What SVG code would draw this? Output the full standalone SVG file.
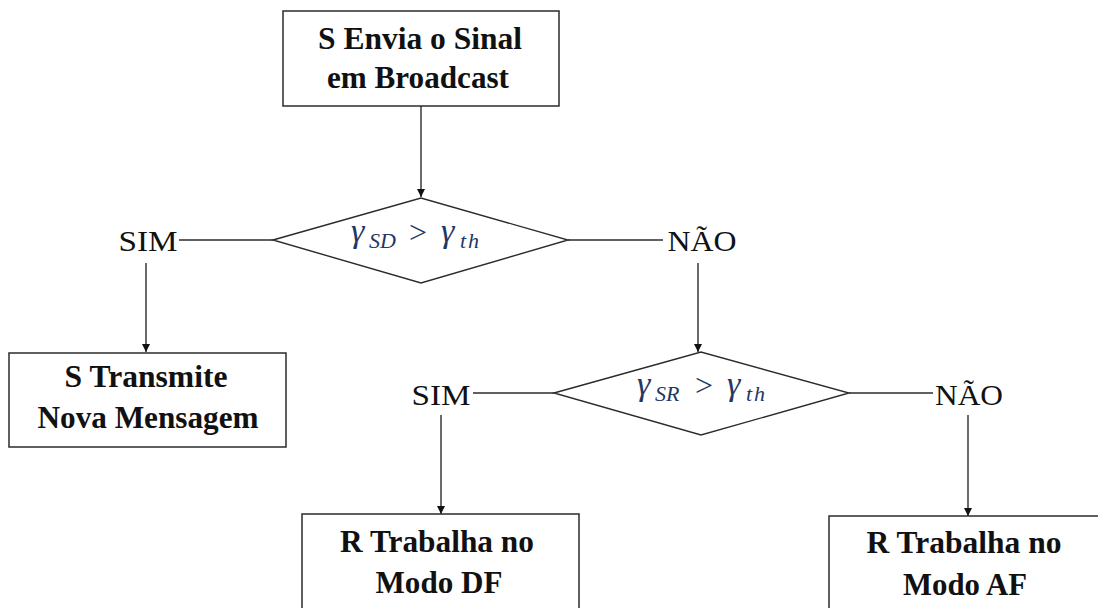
<svg xmlns="http://www.w3.org/2000/svg" width="1098" height="608" viewBox="0 0 1098 608">
  <style>
    .box { fill: #ffffff; stroke: #2b2b2b; stroke-width: 1.5; }
    .dia { fill: #ffffff; stroke: #2b2b2b; stroke-width: 1.4; }
    .ln { fill: none; stroke: #2b2b2b; stroke-width: 1.4; }
    .t { font-family: 'Liberation Serif', 'Times New Roman', serif; font-size: 31px; font-weight: bold; fill: #111111; text-anchor: middle; }
    .lbl { font-family: 'Liberation Serif', 'Times New Roman', serif; font-size: 30px; fill: #111111; text-anchor: middle; }
    .m { font-family: 'Liberation Serif', 'DejaVu Serif', serif; font-style: italic; font-size: 34px; fill: #1f3864; }
    .sub { font-size: 22px; }
    .th { font-size: 22px; letter-spacing: 2px; }
    .op { font-style: normal; font-size: 32px; }
  </style>
  <defs>
    <marker id="arrow" viewBox="0 0 10 10" refX="10" refY="5" markerWidth="8" markerHeight="8" markerUnits="userSpaceOnUse" orient="auto">
      <path d="M0,0 L10,5 L0,10 z" fill="#111111"/>
    </marker>
  </defs>
  <rect width="1098" height="608" fill="#ffffff"/>

  <!-- connectors -->
  <g id="connectors">
    <line class="ln" x1="421" y1="106" x2="421" y2="197" marker-end="url(#arrow)"/>
    <line class="ln" x1="179" y1="240" x2="273" y2="240"/>
    <line class="ln" x1="568" y1="240" x2="663" y2="240"/>
    <line class="ln" x1="146" y1="263" x2="146" y2="352" marker-end="url(#arrow)"/>
    <line class="ln" x1="698" y1="263" x2="698" y2="352" marker-end="url(#arrow)"/>
    <line class="ln" x1="473" y1="393" x2="554" y2="393"/>
    <line class="ln" x1="849" y1="393" x2="933" y2="393"/>
    <line class="ln" x1="441" y1="415" x2="441" y2="514" marker-end="url(#arrow)"/>
    <line class="ln" x1="968" y1="415" x2="968" y2="516" marker-end="url(#arrow)"/>
  </g>

  <!-- start: broadcast -->
  <g id="node-broadcast">
    <rect class="box" x="283" y="11" width="276" height="95"/>
    <text class="t" x="420" y="49" textLength="204" lengthAdjust="spacingAndGlyphs">S Envia o Sinal</text>
    <text class="t" x="418" y="88" textLength="182" lengthAdjust="spacingAndGlyphs">em Broadcast</text>
  </g>

  <!-- decision 1 -->
  <g id="node-decision-sd">
    <polygon class="dia" points="273,240 421,198 568,240 421,283"/>
    <text class="m" y="242"><tspan x="351">γ</tspan><tspan class="sub" x="369" y="248">SD</tspan><tspan class="op" x="409" y="243">&gt;</tspan><tspan x="441" y="242">γ</tspan><tspan class="th" x="460" y="248">th</tspan></text>
  </g>

  <g id="label-sim-1"><text class="lbl" x="148" y="251" textLength="59" lengthAdjust="spacingAndGlyphs">SIM</text></g>
  <g id="label-nao-1"><text class="lbl" x="702" y="251" textLength="69" lengthAdjust="spacingAndGlyphs">NÃO</text></g>

  <!-- new message -->
  <g id="node-new-message">
    <rect class="box" x="9" y="353" width="277" height="94"/>
    <text class="t" x="146" y="387" textLength="163" lengthAdjust="spacingAndGlyphs">S Transmite</text>
    <text class="t" x="148" y="428" textLength="221" lengthAdjust="spacingAndGlyphs">Nova Mensagem</text>
  </g>

  <!-- decision 2 -->
  <g id="node-decision-sr">
    <polygon class="dia" points="554,393 701,352 849,393 701,435"/>
    <text class="m" y="395"><tspan x="637">γ</tspan><tspan class="sub" x="655" y="401">SR</tspan><tspan class="op" x="695" y="396">&gt;</tspan><tspan x="727" y="395">γ</tspan><tspan class="th" x="746" y="401">th</tspan></text>
  </g>

  <g id="label-sim-2"><text class="lbl" x="441" y="405" textLength="59" lengthAdjust="spacingAndGlyphs">SIM</text></g>
  <g id="label-nao-2"><text class="lbl" x="969" y="405" textLength="68" lengthAdjust="spacingAndGlyphs">NÃO</text></g>

  <!-- relay DF -->
  <g id="node-df">
    <rect class="box" x="302" y="514" width="277" height="110"/>
    <text class="t" x="437" y="552" textLength="194" lengthAdjust="spacingAndGlyphs">R Trabalha no</text>
    <text class="t" x="439" y="593" textLength="127" lengthAdjust="spacingAndGlyphs">Modo DF</text>
  </g>

  <!-- relay AF -->
  <g id="node-af">
    <rect class="box" x="829" y="516" width="277" height="110"/>
    <text class="t" x="964" y="553" textLength="195" lengthAdjust="spacingAndGlyphs">R Trabalha no</text>
    <text class="t" x="965" y="595" textLength="124" lengthAdjust="spacingAndGlyphs">Modo AF</text>
  </g>
</svg>
